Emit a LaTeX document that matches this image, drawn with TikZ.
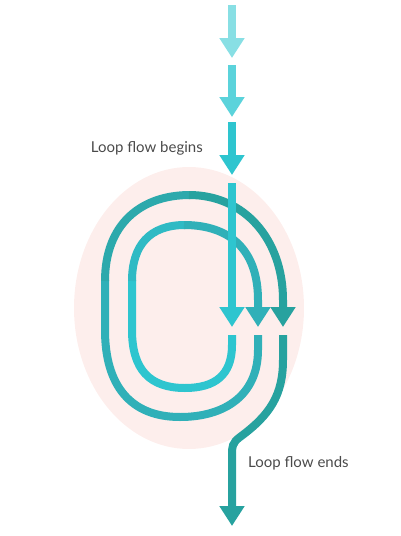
\documentclass[tikz,border=0pt]{standalone}
\usepackage{fontspec}
\setmainfont{Lato}
\usetikzlibrary{arrows.meta}
\definecolor{flowA}{HTML}{88DFE4}
\definecolor{flowB}{HTML}{5BD3DB}
\definecolor{flowC}{HTML}{2EC5CF}
\definecolor{flowD}{HTML}{30B0B8}
\definecolor{flowE}{HTML}{27A29F}
\definecolor{blob}{HTML}{FDEEEC}
\definecolor{txt}{HTML}{4A4A4A}
\begin{document}
\begin{tikzpicture}[x=1pt,y=-1pt,
  flow/.style={line width=8pt,-{Triangle[width=24pt,length=20pt]}},
  band/.style={line width=8pt},
  label node/.style={font=\fontsize{15}{17}\selectfont,text=txt,inner sep=0pt}]
\useasboundingbox (0,0) rectangle (400,536);

\fill[blob] (189,308) ellipse [x radius=115, y radius=141];

\coordinate (a1) at (232,5);   \coordinate (t1) at (232,58);
\coordinate (a2) at (232,65);  \coordinate (t2) at (232,117);
\coordinate (a3) at (232,122); \coordinate (t3) at (232,175);
\coordinate (a4) at (232,183); \coordinate (h1) at (232,327);
\coordinate (s1) at (232,335); \coordinate (h2) at (258,327);
\coordinate (s2) at (258,335); \coordinate (h3) at (283,327);
\coordinate (s3) at (283,335); \coordinate (end) at (232,526);

\draw[flow,flowA] (a1) -- (t1);
\draw[flow,flowB] (a2) -- (t2);
\draw[flow,flowC] (a3) -- (t3);

% inner loop
\draw[band,flowC] (s1) -- (232,345) .. controls (232,375) and (215,388) .. (185,388)
  .. controls (150,388) and (132,370) .. (132,330) -- (132,280);
\draw[band,flowC!50!flowD] (132,281) .. controls (132,245) and (150,225) .. (185,225);
\draw[flow,flowD] (184,225) .. controls (230,225) and (258,250) .. (258,300) -- (h2);

% outer loop
\draw[band,flowD] (s2) -- (258,350) .. controls (258,395) and (225,417) .. (180,417)
  .. controls (130,417) and (105,385) .. (105,330) -- (105,280);
\draw[band,flowD!50!flowE] (105,281) .. controls (105,225) and (140,195) .. (190,195);
\draw[flow,flowE] (189,195) .. controls (245,195) and (283,240) .. (283,300) -- (h3);

% exit
\draw[flow,flowE] (s3) -- (283,360) .. controls (283,395) and (270,415) .. (240,437)
  .. controls (232,443) and (232,447) .. (232,455) -- (end);

\draw[flow,flowC] (a4) -- (h1);

\node[label node,anchor=east] (begins) at (203,148) {Loop flow begins};
\node[label node,anchor=west] (ends) at (248,463) {Loop flow ends};
\end{tikzpicture}
\end{document}
